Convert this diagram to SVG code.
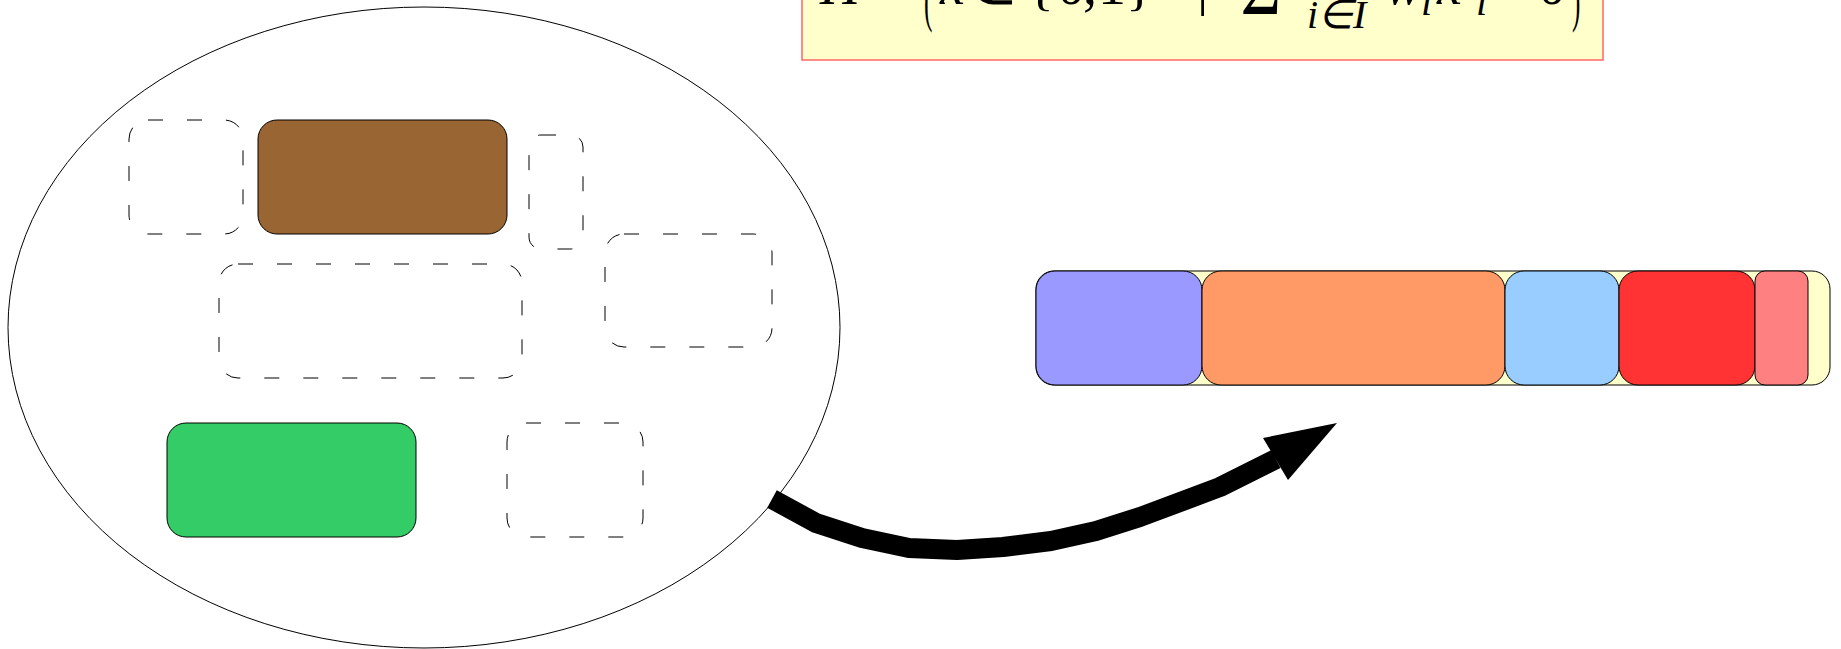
<svg xmlns="http://www.w3.org/2000/svg" width="1841" height="649" viewBox="0 0 1841 649">
<style>
.dash{fill:none;stroke:#000;stroke-width:1;stroke-dasharray:15 24}
.solid{stroke:#000;stroke-width:1}
.m{font-family:"Liberation Serif",serif;font-size:56px;fill:#000}
.mi{font-family:"Liberation Serif",serif;font-size:56px;font-style:italic;fill:#000}
.sub{font-family:"Liberation Serif",serif;font-size:40px;font-style:italic;fill:#000}
</style>
<rect x="0" y="0" width="1841" height="649" fill="#fff"/>
<g id="formula">
<rect x="802" y="-60" width="801" height="120" fill="#FFFFCC" stroke="#FF6666" stroke-width="1.5"/>
<text class="mi" x="820" y="4">H</text>
<text class="m" x="873" y="4">=</text>
<text class="m" x="0" y="0" transform="translate(924,20) scale(0.45,1.05)" font-size="110">(</text>
<text class="mi" x="940" y="4">x</text>
<text class="m" x="968" y="4">∈</text>
<text class="m" x="1027" y="4">{</text>
<text class="m" x="1057" y="4">0</text>
<text class="m" x="1083" y="4">,</text>
<text class="m" x="1098" y="4">1</text>
<text class="m" x="1126" y="4">}</text>
<text class="sub" x="1142" y="-22">n</text>
<text class="m" x="1197" y="4">|</text>
<text class="m" x="1241" y="2" font-size="102" font-weight="bold">∑</text>
<text class="sub" x="1307" y="28">i∈I</text>
<text class="mi" x="1385" y="4">w</text>
<text class="sub" x="1421" y="15">i</text>
<text class="mi" x="1437" y="4">x</text>
<text class="sub" x="1476" y="15">i</text>
<text class="m" x="1503" y="4">&lt;</text>
<text class="m" x="1538" y="4">0</text>
<text class="m" x="0" y="0" transform="translate(1572,20) scale(0.45,1.05)" font-size="110">)</text>
</g>
<g id="set">
<ellipse cx="424" cy="327.5" rx="416" ry="320.5" fill="#fff" stroke="#000" stroke-width="1"/>
</g>
<g id="item-d1"><rect class="dash" x="129" y="120" width="114" height="114" rx="19"/></g>
<g id="item-brown"><rect class="solid" x="258" y="120" width="249" height="114" rx="19" fill="#996633"/></g>
<g id="item-d2"><rect class="dash" x="529" y="135" width="54" height="114" rx="12"/></g>
<g id="item-d3"><rect class="dash" x="219" y="264" width="303" height="114" rx="19"/></g>
<g id="item-d4"><rect class="dash" x="605" y="234" width="167" height="113" rx="19"/></g>
<g id="item-green"><rect class="solid" x="167" y="423" width="249" height="114" rx="19" fill="#33CC66"/></g>
<g id="item-d5"><rect class="dash" x="507" y="423" width="136" height="114" rx="19"/></g>
<g id="knapsack">
<rect class="solid" x="1036" y="271" width="794" height="114" rx="18" fill="#FFFFCC"/>
<rect class="solid" x="1036" y="271" width="166" height="114" rx="19" fill="#9999FF"/>
<rect class="solid" x="1202" y="271" width="303" height="114" rx="19" fill="#FF9966"/>
<rect class="solid" x="1505" y="271" width="114" height="114" rx="19" fill="#99CCFF"/>
<rect class="solid" x="1619" y="271" width="136" height="114" rx="19" fill="#FF3333"/>
<rect class="solid" x="1755" y="271" width="53" height="114" rx="10" fill="#FF8080"/>
</g>
<g id="connectors">
<polyline points="772,499 794,511 816,523 862,538 909,548 957,550 1003,547 1051,541 1096,531 1140,517 1220,487 1276,459" fill="none" stroke="#000" stroke-width="20" stroke-linejoin="round"/>
<polygon points="1263,438 1337,423 1288,480" fill="#000"/>
</g>
</svg>
